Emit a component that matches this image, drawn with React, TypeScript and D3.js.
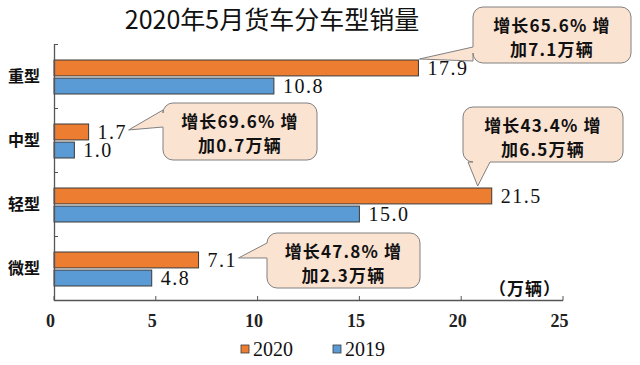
import React, { useEffect, useRef } from 'react';
import * as d3 from 'd3';

// chart data
const categories = ['重型', '中型', '轻型', '微型'];
const seriesNames = ['2020', '2019'];
const values2020 = [17.9, 1.7, 21.5, 7.1];
const values2019 = [10.8, 1.0, 15.0, 4.8];
const growthRates = ['65.6%', '69.6%', '43.4%', '47.8%'];
const increases = ['7.1', '0.7', '6.5', '2.3'];
const xTicks = [0, 5, 10, 15, 20, 25];

const colors = { '2020': '#ED7D31', '2019': '#5B9BD5' };

// callout boxes: [left, top, width, height], tail side
const calloutLayout = [
  { box: [473, 7, 158, 56], side: 'left', tail: [40, 54], tip: 'barTop' },
  { box: [163, 103, 154, 57], side: 'left', tail: [7, 24], tip: 'labelEnd' },
  { box: [463, 107, 160, 55], side: 'bottom', tail: [5, 27], tip: 'barTopInside' },
  { box: [267, 233, 153, 55], side: 'left', tail: [10, 25], tip: 'labelEnd' },
];

const W = 640;
const H = 365;
const CJK = '"Noto Sans CJK SC", "Noto Sans", sans-serif';
const SERIF = '"Liberation Serif", "DejaVu Serif", serif';

const App: React.FC = () => {
  const svgRef = useRef<SVGSVGElement>(null);

  useEffect(() => {
    if (!svgRef.current) return;
    const svg = d3.select(svgRef.current);
    svg.selectAll('*').remove();

    const x = d3.scaleLinear().domain([0, 25]).range([54, 563]);
    const y = d3.scaleBand<string>().domain(categories).range([44, 300]);
    const sub = d3.scaleBand<string>().domain(seriesNames).range([16, 50]).paddingInner(0.12);

    // title
    svg.append('text')
      .attr('x', 272)
      .attr('y', 29)
      .attr('text-anchor', 'middle')
      .style('font-family', CJK)
      .style('font-size', '25px')
      .style('fill', '#111')
      .text('2020年5月货车分车型销量');

    // bars
    const series = [values2020, values2019];
    categories.forEach((cat, i) => {
      seriesNames.forEach((s, j) => {
        const v = series[j][i];
        const by = y(cat)! + sub(s)!;
        svg.append('rect')
          .attr('x', x(0))
          .attr('y', by)
          .attr('width', x(v) - x(0))
          .attr('height', sub.bandwidth())
          .attr('fill', colors[s as '2020' | '2019'])
          .attr('stroke', '#3a3a3a')
          .attr('stroke-width', 1);

        svg.append('text')
          .attr('x', x(v) + 9)
          .attr('y', by + sub.bandwidth() / 2)
          .attr('dy', '0.36em')
          .style('font-family', SERIF)
          .style('font-size', '20px')
          .style('letter-spacing', '1.5px')
          .style('fill', '#111')
          .text(v.toFixed(1));
      });

      // category label
      svg.append('text')
        .attr('x', 40)
        .attr('y', y(cat)! + y.bandwidth() / 2)
        .attr('dy', '0.38em')
        .attr('text-anchor', 'end')
        .style('font-family', CJK)
        .style('font-weight', 'bold')
        .style('font-size', '16px')
        .style('fill', '#111')
        .text(cat);
    });

    // axes
    const axisColor = '#555';
    svg.append('line')
      .attr('x1', x(0)).attr('x2', x(25))
      .attr('y1', 300.5).attr('y2', 300.5)
      .attr('stroke', axisColor).attr('stroke-width', 1.3);
    svg.append('line')
      .attr('x1', x(0) + 0.5).attr('x2', x(0) + 0.5)
      .attr('y1', 44).attr('y2', 300.5)
      .attr('stroke', axisColor).attr('stroke-width', 1.3);

    xTicks.forEach(t => {
      svg.append('line')
        .attr('x1', x(t)).attr('x2', x(t))
        .attr('y1', 300.5).attr('y2', 296)
        .attr('stroke', axisColor).attr('stroke-width', 1);
      svg.append('text')
        .attr('x', x(t) - 3.5)
        .attr('y', 327)
        .attr('text-anchor', 'middle')
        .style('font-family', SERIF)
        .style('font-weight', 'bold')
        .style('font-size', '18px')
        .style('fill', '#222')
        .text(t);
    });

    [...categories.map(c => y(c)!), 300].forEach(t => {
      svg.append('line')
        .attr('x1', x(0)).attr('x2', x(0) + 4)
        .attr('y1', t + 0.5).attr('y2', t + 0.5)
        .attr('stroke', axisColor).attr('stroke-width', 1);
    });

    // unit label
    svg.append('text')
      .attr('x', 561)
      .attr('y', 295)
      .attr('text-anchor', 'end')
      .style('font-family', CJK)
      .style('font-weight', 'bold')
      .style('font-size', '17px')
      .style('letter-spacing', '1px')
      .style('fill', '#111')
      .text('（万辆）');

    // callouts
    calloutLayout.forEach((c, i) => {
      const [bx, by, bw, bh] = c.box;
      const v = values2020[i];
      const barTop = y(categories[i])! + sub('2020')!;
      const barMid = barTop + sub.bandwidth() / 2;
      let tip: [number, number];
      if (c.tip === 'barTop') tip = [x(v) + 1, barTop - 1];
      else if (c.tip === 'barTopInside') tip = [x(v) - 14, barTop - 2];
      else tip = [x(v) + 40, barMid - 2];

      const r = 10;
      const p = d3.path();
      p.moveTo(bx + r, by);
      p.lineTo(bx + bw - r, by);
      p.arcTo(bx + bw, by, bx + bw, by + r, r);
      p.lineTo(bx + bw, by + bh - r);
      p.arcTo(bx + bw, by + bh, bx + bw - r, by + bh, r);
      if (c.side === 'bottom') {
        p.lineTo(bx + c.tail[1], by + bh);
        p.lineTo(tip[0], tip[1]);
        p.lineTo(bx + c.tail[0], by + bh);
      }
      p.lineTo(bx + r, by + bh);
      p.arcTo(bx, by + bh, bx, by + bh - r, r);
      if (c.side === 'left') {
        p.lineTo(bx, by + c.tail[1]);
        p.lineTo(tip[0], tip[1]);
        p.lineTo(bx, by + c.tail[0]);
      }
      p.lineTo(bx, by + r);
      p.arcTo(bx, by, bx + r, by, r);
      p.closePath();

      svg.append('path')
        .attr('d', p.toString())
        .attr('fill', '#FBE3D2')
        .attr('stroke', '#808080')
        .attr('stroke-width', 1);

      const cx = bx + bw / 2;
      const lines = [`增长${growthRates[i]} 增`, `加${increases[i]}万辆`];
      lines.forEach((ln, k) => {
        svg.append('text')
          .attr('x', cx)
          .attr('y', by + 19 + k * 24)
          .attr('dy', '0.36em')
          .attr('text-anchor', 'middle')
          .style('font-family', CJK)
          .style('font-weight', 'bold')
          .style('font-size', '17px')
          .style('letter-spacing', '1.2px')
          .style('fill', '#111')
          .text(ln);
      });
    });

    // legend
    const legendItems = [
      { name: '2020', x: 241 },
      { name: '2019', x: 333 },
    ];
    legendItems.forEach(item => {
      svg.append('rect')
        .attr('x', item.x)
        .attr('y', 345)
        .attr('width', 8)
        .attr('height', 8)
        .attr('fill', colors[item.name as '2020' | '2019'])
        .attr('stroke', '#3a3a3a')
        .attr('stroke-width', 0.8);
      svg.append('text')
        .attr('x', item.x + 12)
        .attr('y', 349)
        .attr('dy', '0.35em')
        .style('font-family', SERIF)
        .style('font-size', '20px')
        .style('fill', '#111')
        .text(item.name);
    });
  }, []);

  return (
    <svg
      ref={svgRef}
      width={W}
      height={H}
      style={{ position: 'absolute', left: 0, top: 0, background: '#fff' }}
    />
  );
};

export default App;
